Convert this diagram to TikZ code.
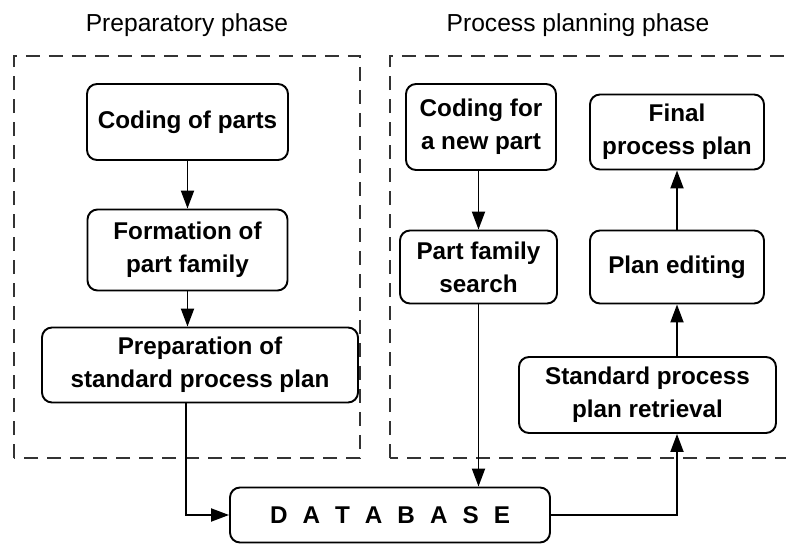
\documentclass[tikz,border=0pt]{standalone}
\usepackage{fontspec}
\setmainfont{Liberation Sans}
\usepackage{tikz}
\usetikzlibrary{positioning, arrows.meta}
\tikzstyle{stepbox} = [rectangle, rounded corners=0.2cm, line width=1.1pt, draw=black, align=center, font=\fontsize{13.8}{18.8}\selectfont\bfseries, inner sep=0pt]
\tikzstyle{phase} = [rectangle, dash pattern=on 0.28cm off 0.18cm, line width=1.1pt, draw=black!80]
\tikzstyle{title} = [font=\fontsize{14}{16}\selectfont]
\tikzstyle{arrow} = [line width=1.1pt, -{Triangle[length=0.36cm,width=0.26cm]}]

\begin{document}
\begin{tikzpicture}
		\useasboundingbox (0,0) rectangle (15.72,10.9);
		\clip (0,0) rectangle (15.72,10.9);
		%phases
		\node (t1) [title] at (3.74,10.4) {Preparatory phase};
		\node (t2) [title] at (11.56,10.4) {Process planning phase};
		\draw [phase] (0.28,1.74) rectangle (7.2,9.78);
		\draw [phase] (7.8,1.74) rectangle (16.4,9.78);
		
		%boxes
		\node (code) [stepbox, minimum width=4.02cm, minimum height=1.52cm] at (3.75,8.46) {Coding of parts};
		\node (form) [stepbox, minimum width=4.0cm, minimum height=1.62cm] at (3.75,5.9) {Formation of\\part family};
		\node (prep) [stepbox, minimum width=6.32cm, minimum height=1.5cm] at (4.0,3.6) {Preparation of\\standard process plan};
		\node (newcode) [stepbox, minimum width=3.0cm, minimum height=1.72cm] at (9.62,8.36) {Coding for\\a new part};
		\node (final) [stepbox, minimum width=3.48cm, minimum height=1.5cm] at (13.54,8.26) {Final\\process plan};
		\node (search) [stepbox, minimum width=3.14cm, minimum height=1.46cm] at (9.57,5.56) {Part family\\search};
		\node (edit) [stepbox, minimum width=3.48cm, minimum height=1.46cm] at (13.54,5.56) {Plan editing};
		\node (retr) [stepbox, minimum width=5.14cm, minimum height=1.52cm] at (12.95,3.0) {Standard process\\plan retrieval};
		\node (db) [stepbox, minimum width=6.4cm, minimum height=1.1cm] at (7.8,0.6) {D\hspace{0.62em}A\hspace{0.62em}T\hspace{0.62em}A\hspace{0.62em}B\hspace{0.62em}A\hspace{0.62em}S\hspace{0.62em}E};
		
		%connections
		\draw [arrow] (code) -- (form);
		\draw [arrow] (form.south) -- (form.south |- prep.north);
		\draw [arrow] ([xshift=-0.28cm]prep.south) |- (db.west);
		\draw [arrow] (search.north |- newcode.south) -- (search.north);
		\draw [arrow] (search.south) -- (search.south |- db.north);
		\draw [arrow] (db.east) -| (retr.south -| edit.south);
		\draw [arrow] (retr.north -| edit.south) -- (edit.south);
		\draw [arrow] (edit) -- (final);
		
	\end{tikzpicture}
\end{document}
